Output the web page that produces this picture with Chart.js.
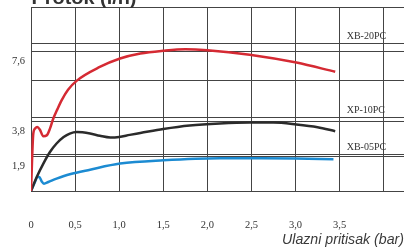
<!DOCTYPE html>
<html lang="sr">
<head>
<meta charset="UTF-8">
<title>Protok</title>
<script src="https://cdn.jsdelivr.net/npm/chart.js@4"></script>
<style>
  html, body { margin: 0; padding: 0; background: #fff; }
  canvas { display: block; }
</style>
</head>
<body>
<canvas id="grafik" width="404" height="248"></canvas>
<script>
// podaci ocitani sa slike
const modeli = ['XB-20PC', 'XP-10PC', 'XB-05PC'];
const maxProtok = [7.6, 3.8, 1.9];
const boje = ['#d52a33', '#2b2b2b', '#1c8bd2'];

const xb20Pritisak = [0, 0.026, 0.045, 0.071, 0.10, 0.14, 0.18, 0.215, 0.25, 0.30, 0.35, 0.42, 0.52, 0.78, 1.01, 1.24, 1.5, 1.75, 2.0, 2.48, 3.01, 3.45];
const xb20Protok   = [0, 3.12, 3.39, 3.48, 3.34, 2.97, 3.03, 3.39, 3.9, 4.45, 4.95, 5.5, 6.0, 6.74, 7.2, 7.47, 7.62, 7.7, 7.65, 7.41, 6.98, 6.48];

const xp10Pritisak = [0, 0.065, 0.14, 0.215, 0.29, 0.37, 0.44, 0.52, 0.67, 0.78, 0.9, 1.0, 1.12, 1.24, 1.5, 1.8, 2.14, 2.48, 2.75, 3.01, 3.25, 3.45];
const xp10Protok   = [0, 0.76, 1.49, 2.12, 2.58, 2.93, 3.12, 3.2, 3.12, 3.0, 2.91, 2.94, 3.05, 3.15, 3.37, 3.56, 3.67, 3.72, 3.72, 3.62, 3.47, 3.25];

const xb05Pritisak = [0, 0.045, 0.071, 0.094, 0.12, 0.147, 0.196, 0.29, 0.44, 0.67, 1.01, 1.5, 2.14, 2.48, 3.0, 3.43];
const xb05Protok   = [0, 0.49, 0.76, 0.76, 0.53, 0.4, 0.49, 0.67, 0.91, 1.16, 1.49, 1.67, 1.78, 1.78, 1.77, 1.73];

const xTickovi = [0, 0.5, 1.0, 1.5, 2.0, 2.5, 3.0, 3.5, 4.0];
const xOznake = ['0', '0,5', '1,0', '1,5', '2,0', '2,5', '3,0', '3,5', ''];
const yMreza = [0, 2, 4, 6, 8, 10];
const yOznake = ['7,6', '3,8', '1,9'];

const naslov = 'Protok (l/h)';
const xNaslov = 'Ulazni pritisak (bar)';

function tacke(xs, ys) {
    return xs.map((v, i) => ({ x: v, y: ys[i] }));
}

function sirinom(ctx, tekst, x, y, sirina) {
    const w = ctx.measureText(tekst).width;
    ctx.save();
    ctx.translate(x, y);
    ctx.scale(sirina / w, 1);
    ctx.fillText(tekst, 0, 0);
    ctx.restore();
}

const tekstovi = {
    id: 'tekstovi',
    afterDraw(chart) {
        const ctx = chart.ctx;
        const xs = chart.scales.x;
        const ys = chart.scales.y;
        ctx.save();
        ctx.fillStyle = '#333';
        ctx.textAlign = 'left';

        // nazivi modela iznad linija maksimalnog protoka
        ctx.font = '10px "Liberation Serif", serif';
        ctx.textBaseline = 'middle';
        modeli.forEach((m, i) => {
            const linija = Math.ceil(maxProtok[i] / 2) * 2;
            ctx.fillText(m, xs.getPixelForValue(3.58), ys.getPixelForValue(linija) - 7);
        });

        // naslov (odsecen na vrhu)
        ctx.textBaseline = 'alphabetic';
        ctx.font = 'bold 18px "Liberation Sans", sans-serif';
        sirinom(ctx, naslov, 31.5, 3.5, 105);

        // naslov x ose
        ctx.fillStyle = '#3a3a3a';
        ctx.font = 'italic 14px "Liberation Sans Narrow", "Liberation Sans", sans-serif';
        sirinom(ctx, xNaslov, 282, 244, 122);
        ctx.restore();
    }
};

new Chart(document.getElementById('grafik'), {
    type: 'line',
    data: {
        datasets: [
            { label: modeli[0], data: tacke(xb20Pritisak, xb20Protok), borderColor: boje[0] },
            { label: modeli[1], data: tacke(xp10Pritisak, xp10Protok), borderColor: boje[1] },
            { label: modeli[2], data: tacke(xb05Pritisak, xb05Protok), borderColor: boje[2] }
        ]
    },
    options: {
        responsive: false,
        animation: false,
        layout: { padding: { top: 7, right: 0, bottom: 0, left: 0 } },
        elements: {
            point: { radius: 0 },
            line: { borderWidth: 2.5, cubicInterpolationMode: 'monotone', fill: false }
        },
        plugins: {
            legend: { display: false },
            tooltip: { enabled: false }
        },
        scales: {
            x: {
                type: 'linear',
                min: 0,
                max: 4.23,
                afterBuildTicks: s => { s.ticks = xTickovi.map(v => ({ value: v })); },
                afterFit: s => { s.height = 57; s.paddingLeft = 0; s.paddingRight = 0; },
                grid: { color: '#444', lineWidth: 1, drawTicks: false },
                border: { color: '#444' },
                ticks: {
                    autoSkip: false,
                    maxRotation: 0,
                    padding: 28,
                    color: '#333',
                    font: { family: '"Liberation Serif", serif', size: 10.5 },
                    callback: (v, i) => xOznake[i]
                }
            },
            y: {
                min: 0,
                max: 10,
                afterBuildTicks: s => {
                    s.ticks = yMreza.concat(maxProtok).sort((a, b) => a - b).map(v => ({ value: v }));
                },
                afterFit: s => { s.width = 31; s.paddingTop = 0; s.paddingBottom = 0; },
                grid: { color: '#444', lineWidth: 1, drawTicks: false },
                border: { color: '#444' },
                ticks: {
                    autoSkip: false,
                    padding: 6,
                    labelOffset: 10,
                    color: '#333',
                    font: { family: '"Liberation Serif", serif', size: 10.5 },
                    callback: v => {
                        const i = maxProtok.indexOf(v);
                        return i >= 0 ? yOznake[i] : '';
                    }
                }
            }
        }
    },
    plugins: [tekstovi]
});
</script>
</body>
</html>
